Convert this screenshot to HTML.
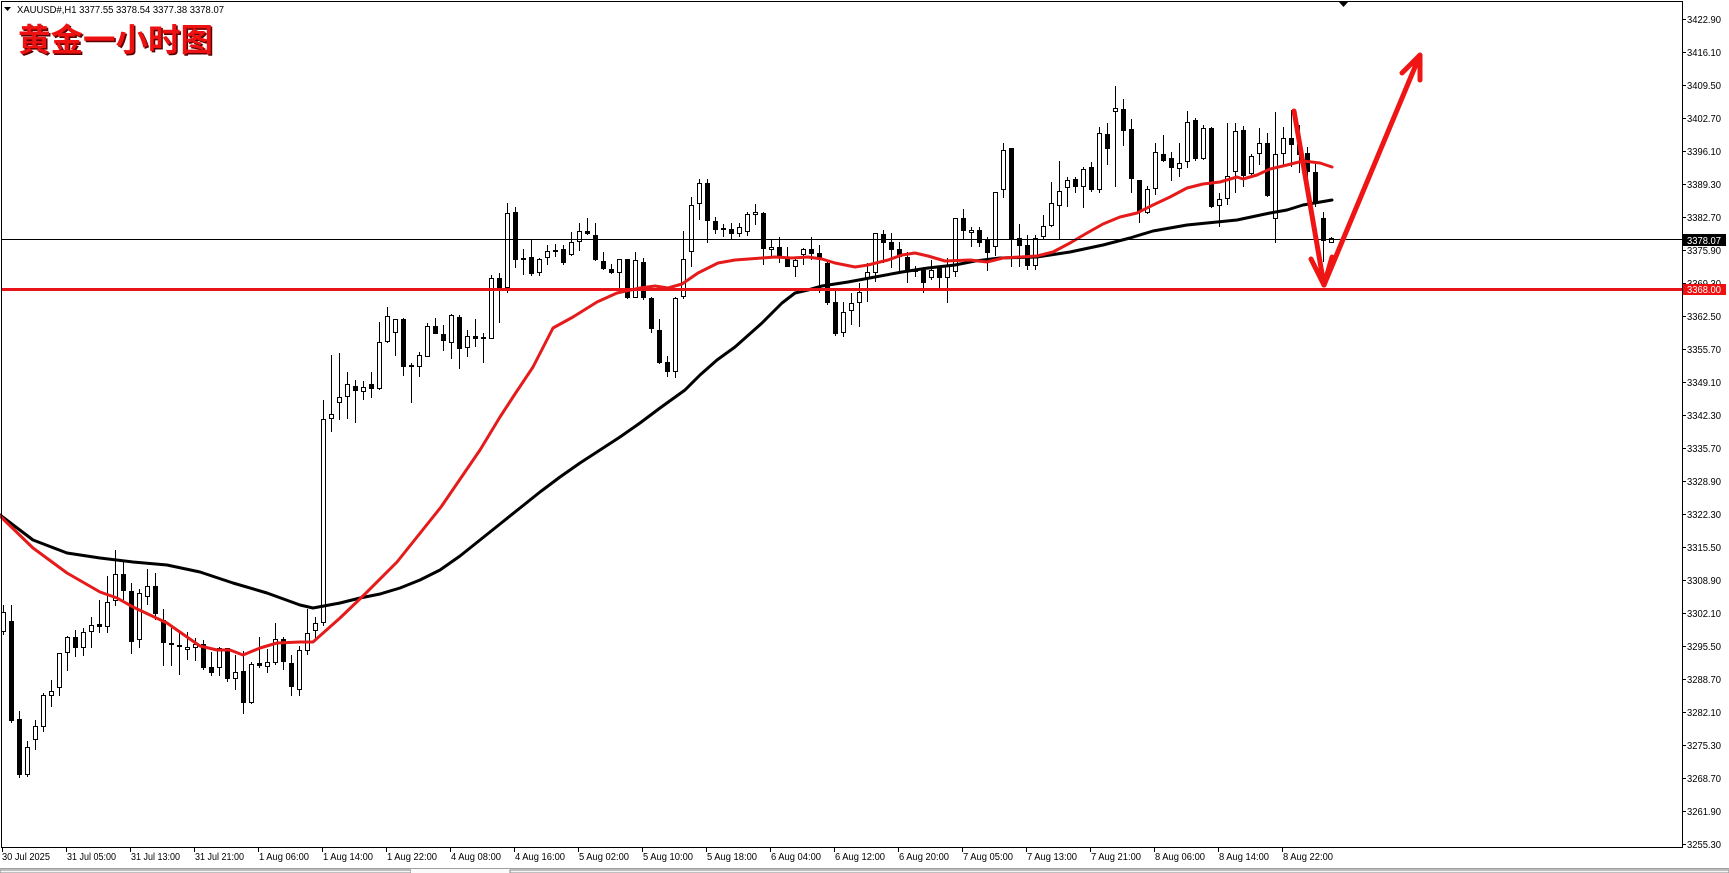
<!DOCTYPE html>
<html><head><meta charset="utf-8"><style>
html,body{margin:0;padding:0;background:#fff;overflow:hidden;width:1729px;height:873px}
svg{display:block}
text{font-family:"Liberation Sans",Arial,sans-serif;font-size:10px;fill:#000}
</style></head><body>
<svg xmlns="http://www.w3.org/2000/svg" width="1729" height="873" viewBox="0 0 1729 873">
<rect x="0" y="0" width="1729" height="873" fill="#fff"/>
<!-- candles -->
<g shape-rendering="crispEdges">
<path fill="none" stroke="#000" stroke-width="1" d="M3.5 605V635M11.5 605V723M19.5 711V778M27.5 741V777M35.5 720V750M43.5 693V732M51.5 680V707M59.5 653V696M67.5 636V671M75.5 630V657M83.5 628V656M91.5 617V648M99.5 600V633M107.5 576V633M115.5 550V606M123.5 560V600M131.5 583V654M139.5 589V648M147.5 569V605M155.5 573V620M163.5 609V666M171.5 628V666M179.5 633V675M187.5 632V660M195.5 638V661M203.5 640V670M211.5 652V676M219.5 647V676M227.5 648V682M235.5 655V690M243.5 651V714M251.5 662V704M259.5 637V668M267.5 649V673M275.5 623V665M283.5 637V670M291.5 655V696M299.5 646V696M307.5 609V655M315.5 617V640M323.5 400V626M331.5 355V432M339.5 353V420M347.5 372V419M355.5 380V423M363.5 381V400M371.5 372V398M379.5 322V390M387.5 307V343M395.5 319V356M403.5 318V376M411.5 363V403M419.5 352V377M427.5 323V357M435.5 318V334M443.5 325V351M451.5 314V359M459.5 315V369M467.5 330V357M475.5 319V347M483.5 333V363M491.5 275V339M499.5 273V323M507.5 203V293M515.5 207V268M523.5 249V275M531.5 239V276M539.5 258V276M547.5 245V265M555.5 244V257M563.5 245V265M571.5 232V256M579.5 223V251M587.5 218V235M595.5 223V261M603.5 252V270M611.5 264V274M619.5 259V289M627.5 259V299M635.5 252V298M643.5 258V300M651.5 297V333M659.5 319V364M667.5 356V377M675.5 297V378M683.5 231V299M691.5 197V267M699.5 179V220M707.5 179V243M715.5 217V234M723.5 224V237M731.5 223V239M739.5 223V237M747.5 212V236M755.5 204V225M763.5 212V265M771.5 240V257M779.5 237V263M787.5 247V267M795.5 257V277M803.5 248V265M811.5 237V260M819.5 245V293M827.5 260V305M835.5 290V336M843.5 302V337M851.5 293V325M859.5 283V327M867.5 263V302M875.5 233V282M883.5 230V263M891.5 233V268M899.5 242V272M907.5 252V283M915.5 266V277M923.5 267V293M931.5 260V280M939.5 267V290M947.5 258V303M955.5 218V277M963.5 209V239M971.5 227V247M979.5 227V247M987.5 237V271M995.5 192V256M1003.5 143V198M1011.5 148V267M1019.5 224V267M1027.5 235V270M1035.5 235V270M1043.5 215V240M1051.5 182V227M1059.5 161V240M1067.5 177V207M1075.5 177V193M1083.5 167V208M1091.5 162V192M1099.5 127V193M1107.5 123V165M1115.5 86V187M1123.5 99V146M1131.5 119V193M1139.5 180V223M1147.5 186V214M1155.5 143V195M1163.5 135V162M1171.5 152V181M1179.5 143V177M1187.5 111V168M1195.5 118V161M1203.5 125V160M1211.5 127V208M1219.5 193V227M1227.5 123V205M1235.5 123V193M1243.5 126V187M1251.5 154V175M1259.5 128V165M1267.5 133V197M1275.5 112V243M1283.5 127V167M1291.5 110V167M1299.5 125V173M1307.5 147V180M1315.5 163V207M1323.5 212V262M1331.5 237V243"/>
<path fill="#000" d="M9 621h5V721h-5ZM17 719h5V775h-5ZM73 637h5V648h-5ZM97 624h5V627h-5ZM121 574h5V591h-5ZM129 591h5V642h-5ZM153 586h5V614h-5ZM161 620h5V643h-5ZM169 643h5V645h-5ZM177 645h5V647h-5ZM201 644h5V668h-5ZM209 667h5V673h-5ZM225 648h5V679h-5ZM241 671h5V703h-5ZM257 663h5V666h-5ZM281 639h5V662h-5ZM289 663h5V687h-5ZM353 386h5V391h-5ZM369 384h5V389h-5ZM401 319h5V367h-5ZM409 365h5V367h-5ZM433 326h5V334h-5ZM441 334h5V341h-5ZM457 317h5V349h-5ZM473 336h5V339h-5ZM481 337h5V339h-5ZM497 278h5V288h-5ZM513 212h5V260h-5ZM521 258h5V260h-5ZM529 257h5V274h-5ZM553 250h5V252h-5ZM561 249h5V263h-5ZM585 231h5V234h-5ZM593 235h5V260h-5ZM601 261h5V269h-5ZM609 269h5V273h-5ZM625 259h5V298h-5ZM641 262h5V298h-5ZM649 298h5V329h-5ZM657 330h5V363h-5ZM665 362h5V372h-5ZM705 183h5V221h-5ZM713 221h5V230h-5ZM721 228h5V230h-5ZM729 229h5V234h-5ZM761 213h5V249h-5ZM777 247h5V257h-5ZM785 257h5V267h-5ZM809 249h5V254h-5ZM817 253h5V258h-5ZM825 263h5V303h-5ZM833 302h5V334h-5ZM881 234h5V243h-5ZM889 242h5V250h-5ZM897 249h5V257h-5ZM905 257h5V271h-5ZM913 270h5V272h-5ZM921 270h5V283h-5ZM937 268h5V278h-5ZM961 218h5V231h-5ZM977 230h5V243h-5ZM985 239h5V253h-5ZM1009 148h5V239h-5ZM1017 238h5V246h-5ZM1025 245h5V266h-5ZM1073 179h5V187h-5ZM1089 167h5V190h-5ZM1105 134h5V149h-5ZM1121 109h5V131h-5ZM1129 129h5V179h-5ZM1137 180h5V212h-5ZM1161 154h5V161h-5ZM1169 158h5V168h-5ZM1193 120h5V159h-5ZM1209 128h5V207h-5ZM1241 130h5V176h-5ZM1265 143h5V196h-5ZM1289 138h5V145h-5ZM1297 144h5V155h-5ZM1305 153h5V172h-5ZM1313 172h5V204h-5ZM1321 218h5V241h-5Z"/>
<path fill="#fff" stroke="#000" stroke-width="1" d="M1.5 612.5h4V631.5h-4ZM25.5 747.5h4V774.5h-4ZM33.5 726.5h4V739.5h-4ZM41.5 695.5h4V726.5h-4ZM49.5 691.5h4V695.5h-4ZM57.5 653.5h4V687.5h-4ZM65.5 637.5h4V652.5h-4ZM81.5 632.5h4V647.5h-4ZM89.5 625.5h4V631.5h-4ZM105.5 602.5h4V626.5h-4ZM113.5 574.5h4V600.5h-4ZM137.5 593.5h4V639.5h-4ZM145.5 586.5h4V596.5h-4ZM185.5 647.5h4V649.5h-4ZM193.5 644.5h4V647.5h-4ZM217.5 648.5h4V667.5h-4ZM233.5 672.5h4V678.5h-4ZM249.5 664.5h4V702.5h-4ZM265.5 662.5h4V666.5h-4ZM273.5 639.5h4V662.5h-4ZM297.5 650.5h4V689.5h-4ZM305.5 633.5h4V650.5h-4ZM313.5 623.5h4V630.5h-4ZM321.5 419.5h4V622.5h-4ZM329.5 414.5h4V418.5h-4ZM337.5 397.5h4V402.5h-4ZM345.5 384.5h4V396.5h-4ZM361.5 387.5h4V391.5h-4ZM377.5 342.5h4V388.5h-4ZM385.5 316.5h4V341.5h-4ZM393.5 319.5h4V332.5h-4ZM417.5 355.5h4V366.5h-4ZM425.5 326.5h4V356.5h-4ZM449.5 315.5h4V342.5h-4ZM465.5 336.5h4V347.5h-4ZM489.5 278.5h4V338.5h-4ZM505.5 213.5h4V287.5h-4ZM537.5 259.5h4V272.5h-4ZM545.5 251.5h4V257.5h-4ZM569.5 242.5h4V254.5h-4ZM577.5 231.5h4V241.5h-4ZM617.5 259.5h4V272.5h-4ZM633.5 260.5h4V297.5h-4ZM673.5 298.5h4V371.5h-4ZM681.5 259.5h4V296.5h-4ZM689.5 205.5h4V251.5h-4ZM697.5 183.5h4V203.5h-4ZM737.5 227.5h4V233.5h-4ZM745.5 214.5h4V231.5h-4ZM753.5 212.5h4V214.5h-4ZM769.5 247.5h4V249.5h-4ZM793.5 260.5h4V266.5h-4ZM801.5 249.5h4V254.5h-4ZM841.5 312.5h4V332.5h-4ZM849.5 303.5h4V310.5h-4ZM857.5 292.5h4V302.5h-4ZM865.5 272.5h4V277.5h-4ZM873.5 233.5h4V272.5h-4ZM929.5 270.5h4V277.5h-4ZM945.5 265.5h4V277.5h-4ZM953.5 218.5h4V271.5h-4ZM969.5 230.5h4V232.5h-4ZM993.5 192.5h4V246.5h-4ZM1001.5 150.5h4V189.5h-4ZM1033.5 238.5h4V265.5h-4ZM1041.5 226.5h4V236.5h-4ZM1049.5 203.5h4V225.5h-4ZM1057.5 191.5h4V205.5h-4ZM1065.5 180.5h4V187.5h-4ZM1081.5 169.5h4V186.5h-4ZM1097.5 133.5h4V189.5h-4ZM1113.5 108.5h4V111.5h-4ZM1145.5 189.5h4V212.5h-4ZM1153.5 152.5h4V188.5h-4ZM1177.5 163.5h4V168.5h-4ZM1185.5 122.5h4V161.5h-4ZM1201.5 128.5h4V158.5h-4ZM1217.5 199.5h4V205.5h-4ZM1225.5 176.5h4V198.5h-4ZM1233.5 131.5h4V171.5h-4ZM1249.5 156.5h4V173.5h-4ZM1257.5 143.5h4V153.5h-4ZM1273.5 154.5h4V218.5h-4ZM1281.5 138.5h4V153.5h-4ZM1329.5 238.5h4V242.5h-4Z"/>
</g>
<!-- moving averages -->
<polyline fill="none" stroke="#000" stroke-width="3" stroke-linejoin="round" stroke-linecap="round" points="0,515 33,540 67,553 100,558 133,562 167,565 200,572 233,583 267,593 300,605 313,608 340,603 360,598 380,594 400,588 420,580 440,570 460,556 480,540 500,524 520,508 540,492 560,477 580,463 600,450 620,437 640,423 660,408 685,390 700,375 717,360 735,347 762,323 782,303 795,293 808,290 822,286 848,282 875,277 902,272 928,268 955,265 975,261 1000,258 1037,257 1070,252 1103,245 1130,238 1153,231 1187,225 1237,220 1270,213 1287,210 1303,205 1332,200"/>
<polyline fill="none" stroke="#e51b1b" stroke-width="3" stroke-linejoin="round" stroke-linecap="round" points="0,516 33,548 67,573 100,592 117,598 133,607 167,623 187,637 200,646 217,650 230,650 243,655 260,648 277,643 300,642 313,642 340,618 364,595 397,562 441,507 480,450 500,417 513,397 533,367 553,328 573,317 597,302 617,293 640,288 655,286 668,288 682,284 698,273 718,263 735,260 762,258 775,257 792,258 808,257 822,259 835,263 855,267 868,265 888,260 902,255 915,253 928,256 945,261 970,260 987,262 1003,258 1020,257 1037,256 1053,252 1070,243 1087,233 1103,224 1120,217 1137,213 1153,205 1170,197 1187,188 1203,184 1220,182 1237,177 1243,179 1257,175 1270,169 1287,165 1303,161 1320,163 1332,167"/>
<!-- horizontal lines -->
<rect x="1" y="239" width="1681" height="1" fill="#000"/>
<rect x="1" y="288" width="1681" height="3" fill="#e8141a"/>
<!-- arrows -->
<g fill="none" stroke="#f01515" stroke-width="5" stroke-linecap="round" stroke-linejoin="round">
<path d="M1294 111L1324 285M1311 259L1324 285L1332 257"/>
<path d="M1324 285L1420 55M1402 73L1420 55L1420 80"/>
</g>
<!-- frame -->
<rect x="1.5" y="1.5" width="1681" height="846" fill="none" stroke="#000" stroke-width="1" shape-rendering="crispEdges"/>
<polygon points="1339,2 1348,2 1343.5,7" fill="#000"/>
<!-- price axis -->
<path stroke="#000" stroke-width="1" shape-rendering="crispEdges" d="M1682 19.5h4M1682 52.5h4M1682 85.5h4M1682 118.5h4M1682 151.5h4M1682 184.5h4M1682 217.5h4M1682 250.5h4M1682 283.5h4M1682 316.5h4M1682 349.5h4M1682 382.5h4M1682 415.5h4M1682 448.5h4M1682 481.5h4M1682 514.5h4M1682 547.5h4M1682 580.5h4M1682 613.5h4M1682 646.5h4M1682 679.5h4M1682 712.5h4M1682 745.5h4M1682 778.5h4M1682 811.5h4M1682 844.5h4"/>
<g>
<text x="1687" y="23" textLength="34" lengthAdjust="spacingAndGlyphs">3422.90</text>
<text x="1687" y="56" textLength="34" lengthAdjust="spacingAndGlyphs">3416.10</text>
<text x="1687" y="89" textLength="34" lengthAdjust="spacingAndGlyphs">3409.50</text>
<text x="1687" y="122" textLength="34" lengthAdjust="spacingAndGlyphs">3402.70</text>
<text x="1687" y="155" textLength="34" lengthAdjust="spacingAndGlyphs">3396.10</text>
<text x="1687" y="188" textLength="34" lengthAdjust="spacingAndGlyphs">3389.30</text>
<text x="1687" y="221" textLength="34" lengthAdjust="spacingAndGlyphs">3382.70</text>
<text x="1687" y="254" textLength="34" lengthAdjust="spacingAndGlyphs">3375.90</text>
<text x="1687" y="287" textLength="34" lengthAdjust="spacingAndGlyphs">3369.30</text>
<text x="1687" y="320" textLength="34" lengthAdjust="spacingAndGlyphs">3362.50</text>
<text x="1687" y="353" textLength="34" lengthAdjust="spacingAndGlyphs">3355.70</text>
<text x="1687" y="386" textLength="34" lengthAdjust="spacingAndGlyphs">3349.10</text>
<text x="1687" y="419" textLength="34" lengthAdjust="spacingAndGlyphs">3342.30</text>
<text x="1687" y="452" textLength="34" lengthAdjust="spacingAndGlyphs">3335.70</text>
<text x="1687" y="485" textLength="34" lengthAdjust="spacingAndGlyphs">3328.90</text>
<text x="1687" y="518" textLength="34" lengthAdjust="spacingAndGlyphs">3322.30</text>
<text x="1687" y="551" textLength="34" lengthAdjust="spacingAndGlyphs">3315.50</text>
<text x="1687" y="584" textLength="34" lengthAdjust="spacingAndGlyphs">3308.90</text>
<text x="1687" y="617" textLength="34" lengthAdjust="spacingAndGlyphs">3302.10</text>
<text x="1687" y="650" textLength="34" lengthAdjust="spacingAndGlyphs">3295.50</text>
<text x="1687" y="683" textLength="34" lengthAdjust="spacingAndGlyphs">3288.70</text>
<text x="1687" y="716" textLength="34" lengthAdjust="spacingAndGlyphs">3282.10</text>
<text x="1687" y="749" textLength="34" lengthAdjust="spacingAndGlyphs">3275.30</text>
<text x="1687" y="782" textLength="34" lengthAdjust="spacingAndGlyphs">3268.70</text>
<text x="1687" y="815" textLength="34" lengthAdjust="spacingAndGlyphs">3261.90</text>
<text x="1687" y="848" textLength="34" lengthAdjust="spacingAndGlyphs">3255.30</text>
</g>
<rect x="1683" y="234" width="43" height="12" fill="#000"/>
<text x="1687" y="244" textLength="34" lengthAdjust="spacingAndGlyphs" style="fill:#fff">3378.07</text>
<rect x="1683" y="284" width="43" height="11" fill="#f01010"/>
<text x="1687" y="293" textLength="34" lengthAdjust="spacingAndGlyphs" style="fill:#fff">3368.00</text>
<!-- time axis -->
<path stroke="#000" stroke-width="1" shape-rendering="crispEdges" d="M2.5 848v4M66.5 848v4M130.5 848v4M194.5 848v4M258.5 848v4M322.5 848v4M386.5 848v4M450.5 848v4M514.5 848v4M578.5 848v4M642.5 848v4M706.5 848v4M770.5 848v4M834.5 848v4M898.5 848v4M962.5 848v4M1026.5 848v4M1090.5 848v4M1154.5 848v4M1218.5 848v4M1282.5 848v4"/>
<g>
<text x="2" y="860" textLength="48" lengthAdjust="spacingAndGlyphs">30 Jul 2025</text>
<text x="67" y="860" textLength="49" lengthAdjust="spacingAndGlyphs">31 Jul 05:00</text>
<text x="131" y="860" textLength="49" lengthAdjust="spacingAndGlyphs">31 Jul 13:00</text>
<text x="195" y="860" textLength="49" lengthAdjust="spacingAndGlyphs">31 Jul 21:00</text>
<text x="259" y="860" textLength="50" lengthAdjust="spacingAndGlyphs">1 Aug 06:00</text>
<text x="323" y="860" textLength="50" lengthAdjust="spacingAndGlyphs">1 Aug 14:00</text>
<text x="387" y="860" textLength="50" lengthAdjust="spacingAndGlyphs">1 Aug 22:00</text>
<text x="451" y="860" textLength="50" lengthAdjust="spacingAndGlyphs">4 Aug 08:00</text>
<text x="515" y="860" textLength="50" lengthAdjust="spacingAndGlyphs">4 Aug 16:00</text>
<text x="579" y="860" textLength="50" lengthAdjust="spacingAndGlyphs">5 Aug 02:00</text>
<text x="643" y="860" textLength="50" lengthAdjust="spacingAndGlyphs">5 Aug 10:00</text>
<text x="707" y="860" textLength="50" lengthAdjust="spacingAndGlyphs">5 Aug 18:00</text>
<text x="771" y="860" textLength="50" lengthAdjust="spacingAndGlyphs">6 Aug 04:00</text>
<text x="835" y="860" textLength="50" lengthAdjust="spacingAndGlyphs">6 Aug 12:00</text>
<text x="899" y="860" textLength="50" lengthAdjust="spacingAndGlyphs">6 Aug 20:00</text>
<text x="963" y="860" textLength="50" lengthAdjust="spacingAndGlyphs">7 Aug 05:00</text>
<text x="1027" y="860" textLength="50" lengthAdjust="spacingAndGlyphs">7 Aug 13:00</text>
<text x="1091" y="860" textLength="50" lengthAdjust="spacingAndGlyphs">7 Aug 21:00</text>
<text x="1155" y="860" textLength="50" lengthAdjust="spacingAndGlyphs">8 Aug 06:00</text>
<text x="1219" y="860" textLength="50" lengthAdjust="spacingAndGlyphs">8 Aug 14:00</text>
<text x="1283" y="860" textLength="50" lengthAdjust="spacingAndGlyphs">8 Aug 22:00</text>
</g>
<!-- bottom tab bar -->
<rect x="0" y="868" width="1729" height="5" fill="#ececec"/>
<rect x="0" y="868" width="1729" height="1" fill="#a0a0a0"/>
<rect x="0" y="870" width="411" height="3" fill="#f4f4f4" stroke="#8a8a8a" stroke-width="1"/>
<rect x="411" y="869" width="99" height="4" fill="#fafafa"/>
<rect x="510" y="870" width="1219" height="3" fill="#f4f4f4" stroke="#8a8a8a" stroke-width="1"/>
<!-- header -->
<polygon points="4,7 11,7 7.5,11" fill="#000"/>
<text x="17" y="13" textLength="207" lengthAdjust="spacingAndGlyphs">XAUUSD#,H1  3377.55 3378.54 3377.38 3378.07</text>
<text x="19.5" y="52.5" textLength="195" lengthAdjust="spacingAndGlyphs" style="font-family:'Noto Sans CJK SC','WenQuanYi Zen Hei',sans-serif;font-size:32px;font-weight:bold;fill:#5a0000">黄金一小时图</text>
<text x="18" y="51" textLength="195" lengthAdjust="spacingAndGlyphs" style="font-family:'Noto Sans CJK SC','WenQuanYi Zen Hei',sans-serif;font-size:32px;font-weight:bold;fill:#ee1111">黄金一小时图</text>
</svg>
</body></html>
